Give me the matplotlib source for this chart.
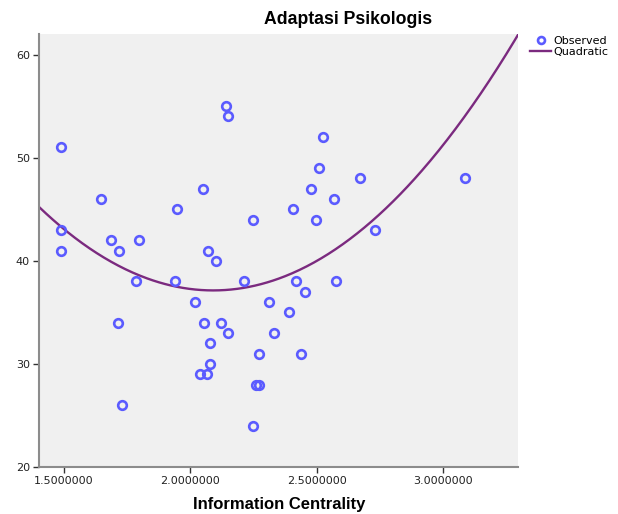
import numpy as np
import matplotlib
matplotlib.use("Agg")
import matplotlib.pyplot as plt
from matplotlib.lines import Line2D

plt.rcParams['font.family'] = ['DejaVu Sans']

title = "Adaptasi Psikologis"
x_label = "Information Centrality"
legend_labels = ["Observed", "Quadratic"]

info_centrality = [
    1.487, 2.141, 2.147, 2.048, 1.647, 1.947, 2.247, 1.487, 1.686, 1.798,
    1.487, 1.717, 2.069, 2.100, 2.524, 2.508, 2.670, 3.088, 2.478, 2.567,
    2.405, 2.497, 2.729, 1.783, 1.939, 2.211, 2.017, 2.309, 1.715, 2.053,
    2.121, 2.150, 2.331, 2.076, 2.273, 2.077, 2.036, 2.064, 2.258, 2.272,
    1.729, 2.248, 2.417, 2.576, 2.455, 2.392, 2.436,
]
adaptasi = [
    51, 55, 54, 47, 46, 45, 44, 43, 42, 42,
    41, 41, 41, 40, 52, 49, 48, 48, 47, 46,
    45, 44, 43, 38, 38, 38, 36, 36, 34, 34,
    34, 33, 33, 32, 31, 30, 29, 29, 28, 28,
    26, 24, 38, 38, 37, 35, 31,
]
x_ticks = [1.5, 2.0, 2.5, 3.0]
y_ticks = [20, 30, 40, 50, 60]

xv = np.array(info_centrality)
yv = np.array(adaptasi)
coef = np.polyfit(xv, yv, 2)

fig = plt.figure(figsize=(6.18, 5.14), dpi=100)
ax = fig.add_axes([39/618, 47/514, (518-39)/618, (467-34)/514])
ax.set_facecolor('#F0F0F0')

xlim = (1.401, 3.296)
ylim = (20, 62.0)
ax.set_xlim(*xlim)
ax.set_ylim(*ylim)

curve_color = '#7B2A7F'
pt_color = '#5B5BFF'

xs = np.linspace(xlim[0], xlim[1], 400)
ax.plot(xs, np.polyval(coef, xs), color=curve_color, lw=1.7, zorder=2, clip_on=True)
ax.plot(xv, yv, linestyle='none', marker='o', markersize=6.2, markerfacecolor='none',
        markeredgecolor=pt_color, markeredgewidth=1.9, zorder=3)

for s in ['top', 'right']:
    ax.spines[s].set_visible(False)
for s in ['left', 'bottom']:
    ax.spines[s].set_color('#8C8C8C')
    ax.spines[s].set_linewidth(1.5)

ax.set_xticks(x_ticks)
ax.set_xticklabels([f"{t:.7f}" for t in x_ticks])
ax.set_yticks(y_ticks)
ax.set_yticklabels([str(t) for t in y_ticks])
ax.tick_params(axis='both', colors='#333333', labelcolor='#222222', labelsize=8,
               length=4, width=1, pad=2.5)

fig.text(348/618, 1 - 20/514, title, ha='center', va='center',
         fontsize=12.7, fontweight='bold', family=['Liberation Sans', 'DejaVu Sans'])
fig.text(279/618, 1 - 505/514, x_label, ha='center', va='center',
         fontsize=12, fontweight='bold', family=['Liberation Sans', 'DejaVu Sans'])

handles = [
    Line2D([], [], linestyle='none', marker='o', markersize=5, markerfacecolor='none',
           markeredgecolor=pt_color, markeredgewidth=1.9),
    Line2D([], [], color=curve_color, lw=1.7),
]
fig.legend(handles, legend_labels, loc='upper left', bbox_to_anchor=(530/618, 1 - 36/514),
           frameon=False, fontsize=8, handlelength=1.9, handletextpad=0.2,
           labelspacing=0.12, borderaxespad=0, borderpad=0)

fig.savefig('out.png', dpi=100)
